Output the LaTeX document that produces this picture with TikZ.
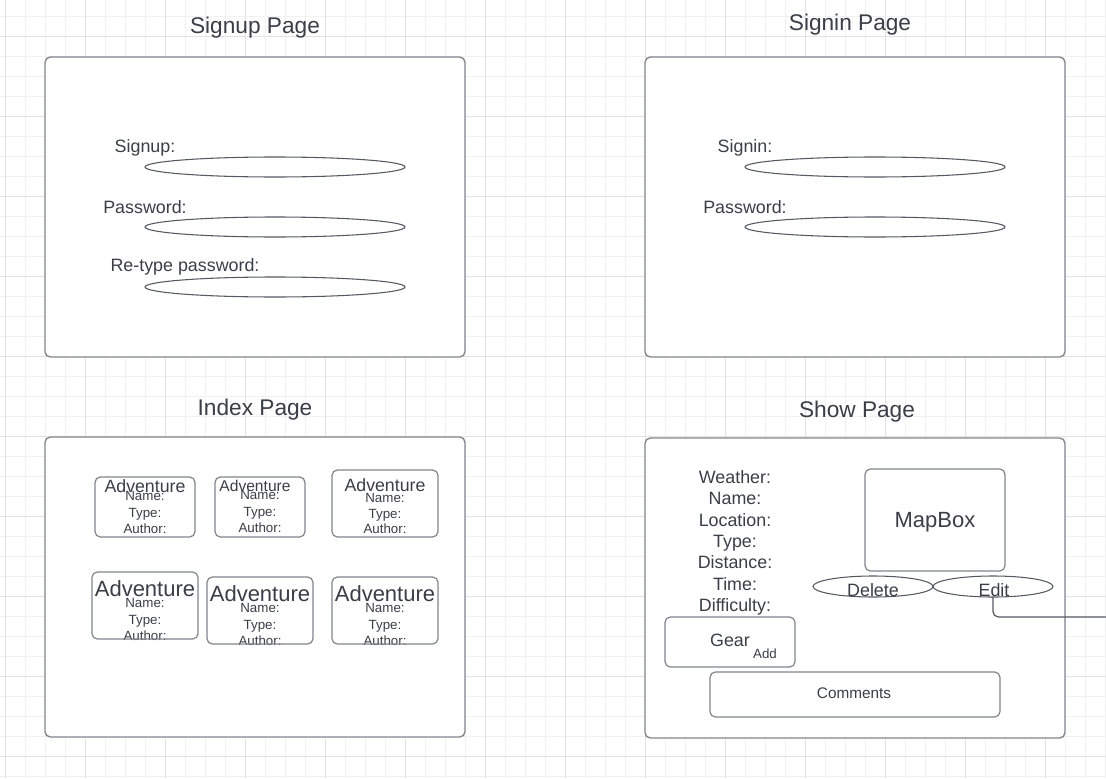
\documentclass[tikz,border=0pt]{standalone}
\usepackage{fontspec}
\setmainfont{Liberation Sans}
\usetikzlibrary{shapes.geometric}
\begin{document}
\definecolor{gridminor}{RGB}{241,241,241}
\definecolor{gridmajor}{RGB}{226,226,226}
\definecolor{boxline}{RGB}{128,133,140}
\definecolor{inkline}{RGB}{85,90,98}
\definecolor{ink}{RGB}{58,63,71}
\begin{tikzpicture}[x=0.75pt,y=-0.75pt,
  every node/.style={text=ink,inner sep=0pt,outer sep=0pt,anchor=base},
  title/.style={font=\fontsize{17pt}{18pt}\selectfont},
  label/.style={font=\fontsize{13.4pt}{14pt}\selectfont},
  small/.style={font=\fontsize{10pt}{11pt}\selectfont},
  bigtitle/.style={font=\fontsize{16.5pt}{18pt}\selectfont},
  midtitle/.style={font=\fontsize{13.3pt}{14pt}\selectfont},
  page/.style={draw=boxline,line width=1pt,rounded corners=4pt},
  card/.style={draw=boxline,line width=0.9pt,rounded corners=4pt},
  field/.style={draw=inkline,line width=0.8pt,shape=ellipse,anchor=center,minimum width=195pt,minimum height=15pt},
  button/.style={draw=inkline,line width=0.8pt,shape=ellipse,anchor=center,minimum width=90pt,minimum height=15.75pt},
  wire/.style={draw=inkline,line width=0.9pt,rounded corners=4pt}
]
\useasboundingbox (0,0) rectangle (1106,778);
\fill[white] (0,0) rectangle (1106,778);
% background grid
\foreach \x in {5,25,...,1105} \draw[gridminor,line width=0.6pt] (\x,0) -- (\x,778);
\foreach \y in {16,36,...,776} \draw[gridminor,line width=0.6pt] (0,\y) -- (1106,\y);
\foreach \x in {5,85,...,1105} \draw[gridmajor,line width=0.75pt] (\x,0) -- (\x,778);
\foreach \y in {36,116,...,776} \draw[gridmajor,line width=0.75pt] (0,\y) -- (1106,\y);

% page frames
\draw[page,fill=white] (45,57) rectangle (465,357);
\draw[page,fill=white] (645,57) rectangle (1065,357);
\draw[page,fill=white] (45,437) rectangle (465,737);
\draw[page,fill=white] (645,438) rectangle (1065,738);

% page titles
\node[title] (t1) at (255,33) {Signup Page};
\node[title] (t2) at (850,30) {Signin Page};
\node[title] (t3) at (255,415) {Index Page};
\node[title] (t4) at (857,417) {Show Page};

% signup form
\node[label] (su1) at (145,152) {Signup:};
\node[label] (su2) at (145,213) {Password:};
\node[label] (su3) at (185,271) {Re-type password:};
\node[field] (suf1) at (275,167) {};
\node[field] (suf2) at (275,227) {};
\node[field] (suf3) at (275,287) {};

% signin form
\node[label] (si1) at (745,152) {Signin:};
\node[label] (si2) at (745,213) {Password:};
\node[field] (sif1) at (875,167) {};
\node[field] (sif2) at (875,227) {};

% adventure cards
\draw[card] (95,477) rectangle (195,537);
\node[midtitle] (a1) at (145,492) {Adventure};
\node[small] at (145,500) {Name:};
\node[small] at (145,517) {Type:};
\node[small] at (145,533) {Author:};

\draw[card] (215,477) rectangle (305,537);
\node[font=\fontsize{11.7pt}{13pt}\selectfont] (a2) at (255,491) {Adventure};
\node[small] at (260,499) {Name:};
\node[small] at (260,516) {Type:};
\node[small] at (260,532) {Author:};

\draw[card] (332,470) rectangle (438,537);
\node[midtitle] (a3) at (385,491) {Adventure};
\node[small] at (385,502) {Name:};
\node[small] at (385,518) {Type:};
\node[small] at (385,533) {Author:};

\node[small] at (145,640) {Author:};
\draw[card] (92,572) rectangle (198,639);
\node[bigtitle] (a4) at (145,596) {Adventure};
\node[small] at (145,607) {Name:};
\node[small] at (145,624) {Type:};

\node[small] at (260,645) {Author:};
\draw[card] (207,577) rectangle (313,644);
\node[bigtitle] (a5) at (260,601) {Adventure};
\node[small] at (260,612) {Name:};
\node[small] at (260,629) {Type:};

\node[small] at (385,645) {Author:};
\draw[card] (332,577) rectangle (438,644);
\node[bigtitle] (a6) at (385,601) {Adventure};
\node[small] at (385,612) {Name:};
\node[small] at (385,629) {Type:};

% show page details
\node[label] (w1) at (735,483) {Weather:};
\node[label] (w2) at (735,504.5) {Name:};
\node[label] (w3) at (735,526) {Location:};
\node[label] (w4) at (735,547) {Type:};
\node[label] (w5) at (735,568.5) {Distance:};
\node[label] (w6) at (735,590) {Time:};
\node[label] (w7) at (735,611) {Difficulty:};

\draw[card] (865,469) rectangle (1005,571);
\node[bigtitle] (map) at (935,527) {MapBox};

\node[label] (del) at (873,596) {Delete};
\node[label] (edit) at (994,596) {Edit};
\node[button] (delbtn) at (873,586.5) {};
\node[button] (editbtn) at (993,586.5) {};

\draw[card] (665,617) rectangle (795,667);
\node[label] (gear) at (730,646) {Gear};
\node[small] (add) at (765,658) {Add};

\draw[card] (710,672) rectangle (1000,717);
\node[font=\fontsize{11.5pt}{13pt}\selectfont] (com) at (854,698) {Comments};

% link leaving the Edit button
\coordinate (out) at (1106,617);
\draw[wire] (editbtn.south) -- (editbtn.south |- out) -- (out);
\end{tikzpicture}
\end{document}
